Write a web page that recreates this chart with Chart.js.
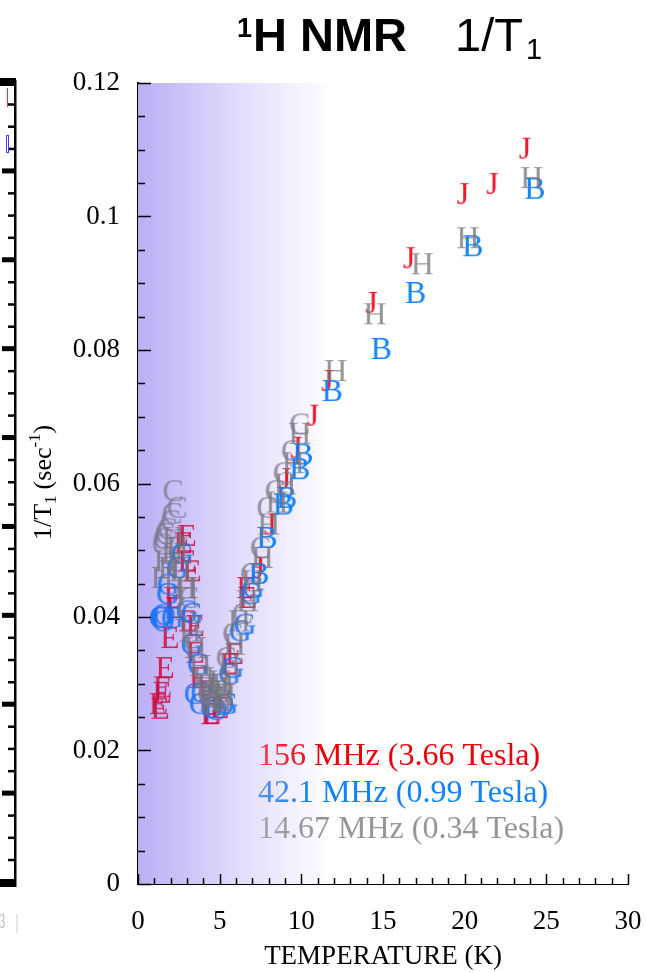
<!DOCTYPE html>
<html>
<head>
<meta charset="utf-8">
<script src="https://cdn.jsdelivr.net/npm/chart.js@4.4.1/dist/chart.umd.min.js"></script>
<style>
 html, body { margin: 0; padding: 0; background: #fff; }
 #wrap { position: relative; width: 646px; height: 973px; }
</style>
</head>
<body>
<div id="wrap"><canvas id="nmr" width="646" height="973"></canvas></div>
<script>
// 156 MHz (3.66 T) - "J" points
const tempJ = [7.4, 8.1, 9.0, 9.7, 10.7, 11.6, 14.3, 16.6, 19.9, 21.7, 23.7];
const rateJ = [0.0475, 0.0540, 0.0608, 0.0655, 0.0703, 0.0755, 0.0872, 0.0939, 0.1035, 0.1050, 0.1103];
// 156 MHz (3.66 T) - "E" points
const tempE = [1.25, 1.35, 1.47, 1.5, 1.65, 1.95, 2.15, 2.25, 2.75, 3.0, 3.0, 3.3, 3.05, 3.5, 3.5, 3.7, 4.2, 4.4, 4.5, 5.0, 5.6, 5.9, 6.6, 6.7];
const rateE = [0.0271, 0.0264, 0.0288, 0.0296, 0.0325, 0.0370, 0.0430, 0.0415, 0.0512, 0.0523, 0.0485, 0.0470, 0.0395, 0.0388, 0.0348, 0.0310, 0.0290, 0.0256, 0.0256, 0.0265, 0.0331, 0.0346, 0.0445, 0.0430];

// 42.1 MHz (0.99 T) - "B" points
const tempB = [7.4, 7.9, 8.9, 9.1, 9.9, 10.1, 11.9, 14.9, 17.0, 20.5, 24.3];
const rateB = [0.0466, 0.0520, 0.0570, 0.0580, 0.0623, 0.0645, 0.0740, 0.0803, 0.0887, 0.0957, 0.1043];
// 42.1 MHz - "G" points
const tempG = [1.8, 1.85, 2.4, 2.7, 2.1, 3.0, 3.3, 3.3, 3.7, 3.5, 3.8, 5.45, 5.6, 5.8, 6.25, 6.55, 6.9, 7.05];
const rateG = [0.0436, 0.0450, 0.0475, 0.0496, 0.0400, 0.0410, 0.0406, 0.0360, 0.0330, 0.0286, 0.0271, 0.0271, 0.0316, 0.0325, 0.0380, 0.0390, 0.0436, 0.0445];
// 42.1 MHz - "O" points
const tempO = [1.35, 1.45, 1.55, 1.6, 3.9, 4.5, 4.8, 5.2];
const rateO = [0.0400, 0.0402, 0.0395, 0.0405, 0.0288, 0.0265, 0.0262, 0.0270];

// 14.67 MHz (0.34 T) - "H" points
const tempH = [9.9, 12.1, 14.5, 17.4, 20.2, 24.1,
  9.5, 9.0, 8.5, 8.0, 7.6, 7.0, 6.7, 6.2, 5.9, 5.6,
  4.2, 4.4, 4.5, 4.6, 4.7, 4.9, 5.0, 5.1, 5.2, 5.3,
  2.9, 3.2, 3.5, 3.8, 4.0,
  2.15, 2.1, 1.65, 2.6, 1.47, 3.0, 1.9, 2.4];
const rateH = [0.0676, 0.0770, 0.0855, 0.0930, 0.0969, 0.1059,
  0.0632, 0.0600, 0.0573, 0.0540, 0.0490, 0.0455, 0.0425, 0.0395, 0.0360, 0.0330,
  0.0300, 0.0275, 0.0290, 0.0270, 0.0282, 0.0295, 0.0305, 0.0275, 0.0300, 0.0285,
  0.0445, 0.0380, 0.0355, 0.0328, 0.0310,
  0.0520, 0.0496, 0.0485, 0.0470, 0.0460, 0.0445, 0.0475, 0.0505];
// 14.67 MHz - "C" points
const tempC = [9.9, 9.4, 8.9, 8.4, 7.9, 7.5, 6.9, 6.4, 5.8, 5.4,
  3.0, 3.4, 3.1, 4.3, 4.8,
  2.15, 2.4, 2.1, 2.0, 1.8, 1.65, 1.55, 1.5];
const rateC = [0.0690, 0.0650, 0.0617, 0.0590, 0.0565, 0.0505, 0.0466, 0.0406, 0.0376, 0.0340,
  0.0415, 0.0365, 0.0430, 0.0285, 0.0278,
  0.0590, 0.0565, 0.0556, 0.0545, 0.0533, 0.0526, 0.0518, 0.0510];

const legendLines = ['156 MHz (3.66 Tesla)', '42.1 MHz (0.99 Tesla)', '14.67 MHz (0.34 Tesla)'];

const serif = '"Liberation Serif", "Times New Roman", serif';
const sans = '"Liberation Sans", Arial, sans-serif';

// builds a small canvas with one letter, used as the point marker
function letterMarker(ch, color) {
 var c = document.createElement('canvas');
 c.width = 32;
 c.height = 32;
 var g = c.getContext('2d');
 g.font = '32px ' + serif;
 g.textAlign = 'center';
 g.textBaseline = 'alphabetic';
 g.fillStyle = color;
 g.fillText(ch, 16, 16 + 10.6);
 return c;
}

function pairs(xs, ys) {
 return xs.map(function(x, i) { return {x: x, y: ys[i]}; });
}

function ds(label, xs, ys, ch, color) {
 return {
  label: label,
  data: pairs(xs, ys),
  pointStyle: letterMarker(ch, color),
  showLine: false
 };
}

const bgPlugin = {
 id: 'bg',
 beforeDatasetsDraw(chart) {
  const a = chart.chartArea;
  const ctx = chart.ctx;
  const gr = ctx.createLinearGradient(a.left, 0, a.left + 195, 0);
  gr.addColorStop(0, 'rgb(188,174,245)');
  gr.addColorStop(0.5, 'rgb(225,218,251)');
  gr.addColorStop(1, 'rgb(255,255,255)');
  ctx.save();
  ctx.fillStyle = gr;
  ctx.fillRect(a.left, a.top, a.right - a.left, a.bottom - a.top);
  ctx.restore();
 }
};

const decoPlugin = {
 id: 'deco',
 afterDraw(chart) {
  const ctx = chart.ctx;
  const xs = chart.scales.x;
  const ys = chart.scales.y;
  const a = chart.chartArea;
  ctx.save();
  ctx.strokeStyle = '#000';
  ctx.lineWidth = 1.5;
  // inward y ticks
  for (let i = 0; i <= 24; i++) {
   const v = i * 0.005;
   const py = Math.round(ys.getPixelForValue(v)) + 0.5;
   const len = (i % 4 === 0) ? 13 : 7;
   ctx.beginPath();
   ctx.moveTo(a.left, py);
   ctx.lineTo(a.left + len, py);
   ctx.stroke();
  }
  // inward x ticks
  for (let t = 0; t <= 30; t++) {
   const px = Math.round(xs.getPixelForValue(t)) + 0.5;
   const len = (t % 5 === 0) ? 10 : 6;
   ctx.beginPath();
   ctx.moveTo(px, a.bottom);
   ctx.lineTo(px, a.bottom - len);
   ctx.stroke();
  }

  // title
  ctx.fillStyle = '#000';
  ctx.textBaseline = 'alphabetic';
  ctx.textAlign = 'left';
  ctx.font = 'bold 27px ' + sans;
  ctx.fillText('1', 237, 37);
  const w1 = ctx.measureText('1').width;
  ctx.font = 'bold 47px ' + sans;
  ctx.fillText('H NMR', 237 + w1 + 1, 51);
  ctx.font = '47px ' + sans;
  ctx.fillText('1/T', 455, 51);
  const w2 = ctx.measureText('1/T').width;
  ctx.font = '29px ' + sans;
  ctx.fillText('1', 455 + w2 + 3, 59);

  // y axis title (rotated)
  ctx.save();
  ctx.translate(51, 540);
  ctx.rotate(-Math.PI / 2);
  let x = 0;
  ctx.font = '26px ' + serif;
  ctx.fillText('1/T', x, 0);
  x += ctx.measureText('1/T').width;
  ctx.font = '17px ' + serif;
  ctx.fillText('1', x, 5);
  x += ctx.measureText('1').width + 6;
  ctx.font = '26px ' + serif;
  ctx.fillText('(sec', x, 0);
  x += ctx.measureText('(sec').width;
  ctx.font = '17px ' + serif;
  ctx.fillText('-1', x, -11);
  x += ctx.measureText('-1').width;
  ctx.font = '26px ' + serif;
  ctx.fillText(')', x, 0);
  ctx.restore();

  // legend lines
  const cols = [
   ['rgb(232,70,90)', 'rgb(236,0,10)'],
   ['rgb(80,145,240)', 'rgb(15,130,250)'],
   ['rgb(165,165,172)', 'rgb(150,150,150)']
  ];
  const base = [765, 802, 838];
  ctx.font = '32px ' + serif;
  legendLines.forEach(function(s, i) {
   const gr = ctx.createLinearGradient(258, 0, 320, 0);
   gr.addColorStop(0, cols[i][0]);
   gr.addColorStop(1, cols[i][1]);
   ctx.fillStyle = gr;
   ctx.fillText(s, 258, base[i]);
  });

  // clipped edge of the neighbouring panel on the left
  ctx.fillStyle = '#000';
  ctx.fillRect(14, 80, 2.5, 807);
  ctx.fillRect(0, 78, 16, 8);
  ctx.fillRect(0, 879, 16, 8);
  const top = 82, bot = 882;
  const step = (bot - top) / 9;
  for (let k = 1; k < 9; k++) {
   ctx.fillRect(2, top + k * step - 2.5, 13, 5);
  }
  for (let k = 0; k < 9; k++) {
   for (let m = 1; m < 4; m++) {
    ctx.fillRect(8, top + k * step + m * step / 4 - 1, 7, 2.5);
   }
  }
  ctx.strokeStyle = 'rgb(235,60,60)';
  ctx.lineWidth = 1;
  ctx.beginPath();
  ctx.moveTo(7.5, 88);
  ctx.lineTo(7.5, 107);
  ctx.stroke();
  ctx.strokeStyle = 'rgb(60,60,240)';
  ctx.strokeRect(6.5, 135.5, 2, 17);
  ctx.fillStyle = 'rgb(170,170,170)';
  ctx.font = '20px ' + serif;
  ctx.save();
  ctx.translate(0, 928);
  ctx.scale(0.5, 1);
  ctx.fillText('3', 0, 0);
  ctx.fillText('|', 32, 0);
  ctx.restore();
  ctx.restore();
 }
};

const ctx = document.getElementById('nmr').getContext('2d');
new Chart(ctx, {
 type: 'scatter',
 data: {
  datasets: [
   ds('14.67 MHz C', tempC, rateC, 'C', 'rgba(125,120,140,0.75)'),
   ds('14.67 MHz H', tempH, rateH, 'H', 'rgba(115,115,120,0.75)'),
   ds('42.1 MHz O', tempO, rateO, 'O', 'rgba(25,115,245,0.85)'),
   ds('42.1 MHz G', tempG, rateG, 'G', 'rgba(25,115,245,0.85)'),
   ds('42.1 MHz B', tempB, rateB, 'B', 'rgba(10,125,250,0.95)'),
   ds('156 MHz E', tempE, rateE, 'E', 'rgba(205,10,60,0.85)'),
   ds('156 MHz J', tempJ, rateJ, 'J', 'rgba(240,10,30,0.95)')
  ]
 },
 options: {
  responsive: false,
  animation: false,
  devicePixelRatio: 1,
  layout: { padding: { top: 83, right: 18, left: 0, bottom: 0 } },
  plugins: {
   legend: { display: false },
   tooltip: { enabled: false }
  },
  elements: { point: { radius: 12, hoverRadius: 12 } },
  scales: {
   x: {
    type: 'linear',
    min: 0,
    max: 30,
    afterFit: function(s) {
     s.height = 89;
     s.paddingLeft = 0;
     s.paddingRight = 0;
    },
    grid: { display: false, drawTicks: false },
    border: { display: true, color: '#000', width: 2 },
    ticks: {
     stepSize: 5,
     padding: 22,
     color: '#000',
     font: { family: serif, size: 27 }
    },
    title: {
     display: true,
     text: 'TEMPERATURE (K)',
     color: '#000',
     padding: { top: 0, bottom: 0 },
     font: { family: serif, size: 27 }
    }
   },
   y: {
    type: 'linear',
    min: 0,
    max: 0.12,
    afterFit: function(s) {
     s.width = 138;
     s.paddingTop = 0;
     s.paddingBottom = 0;
    },
    grid: { display: false, drawTicks: false },
    border: { display: true, color: '#000', width: 2 },
    ticks: {
     stepSize: 0.02,
     padding: 18,
     color: '#000',
     font: { family: serif, size: 27 },
     callback: function(v) { return String(Number(v.toFixed(2))); }
    }
   }
  }
 },
 plugins: [bgPlugin, decoPlugin]
});
</script>
</body>
</html>
